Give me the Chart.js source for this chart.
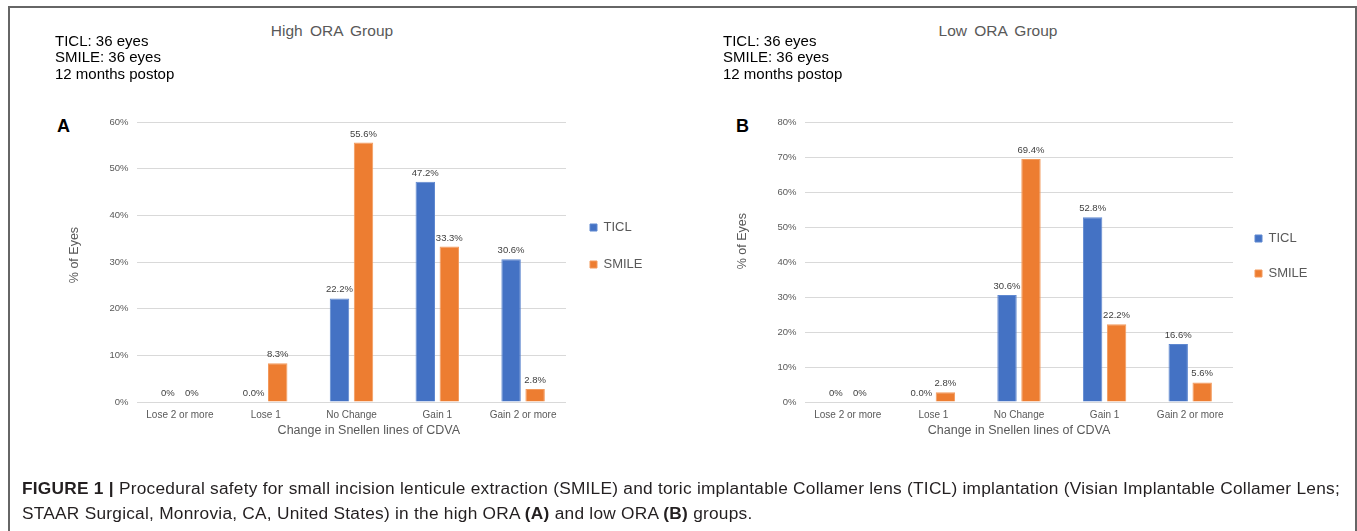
<!DOCTYPE html>
<html>
<head>
<meta charset="utf-8">
<script src="https://cdn.jsdelivr.net/npm/chart.js@4.4.1/dist/chart.umd.min.js"></script>
<style>
  body {
    margin: 0;
    width: 1357px;
    height: 531px;
    position: relative;
    overflow: hidden;
    background: #fff;
    font-family: "Liberation Sans", Arial, sans-serif;
  }
  #frame {
    position: absolute;
    left: 8px;
    top: 6px;
    width: 1345px;
    height: 600px;
    border: 2px solid #666;
  }
  canvas { position: absolute; top: 0; }
  .panel-title {
    position: absolute;
    top: 22.7px;
    width: 200px;
    text-align: center;
    font-size: 15.5px;
    line-height: 16px;
    word-spacing: 3px;
    color: #595959;
    white-space: nowrap;
  }
  .panel-letter {
    position: absolute;
    top: 116.6px;
    font-size: 18px;
    line-height: 18px;
    font-weight: bold;
    color: #000;
  }
  #caption {
    position: absolute;
    left: 22px;
    top: 475.5px;
    font-size: 17.3px;
    line-height: 25px;
    letter-spacing: 0.25px;
    color: #231f20;
    white-space: nowrap;
  }
</style>
</head>
<body>
<div id="frame"></div>

<div class="panel-title" style="left:232px">High ORA Group</div>
<div class="panel-title" style="left:898px">Low ORA Group</div>
<div class="panel-letter" style="left:57px">A</div>
<div class="panel-letter" style="left:736px">B</div>

<canvas id="chartA" width="591" height="492" style="left:55px"></canvas>
<canvas id="chartB" width="590" height="512" style="left:723px"></canvas>

<div id="caption">
  <b>FIGURE 1 |</b> Procedural safety for small incision lenticule extraction (SMILE) and toric implantable Collamer lens (TICL) implantation (Visian Implantable Collamer Lens;<br>
  STAAR Surgical, Monrovia, CA, United States) in the high ORA <b>(A)</b> and low ORA <b>(B)</b> groups.
</div>

<script>
const categories = ['Lose 2 or more', 'Lose 1', 'No Change', 'Gain 1', 'Gain 2 or more'];
const notes = ['TICL: 36 eyes', 'SMILE: 36 eyes', '12 months postop'];

// A - high ORA group
const highTicl = [0, 0, 22.2, 47.2, 30.6];
const highSmile = [0, 8.3, 55.6, 33.3, 2.8];
const highTiclLabels = ['0%', '0.0%', '22.2%', '47.2%', '30.6%'];
const highSmileLabels = ['0%', '8.3%', '55.6%', '33.3%', '2.8%'];

// B - low ORA group
const lowTicl = [0, 0, 30.6, 52.8, 16.6];
const lowSmile = [0, 2.8, 69.4, 22.2, 5.6];
const lowTiclLabels = ['0%', '0.0%', '30.6%', '52.8%', '16.6%'];
const lowSmileLabels = ['0%', '2.8%', '69.4%', '22.2%', '5.6%'];

const TICL_COLOR = '#4472C4';
const SMILE_COLOR = '#ED7D31';
const FONT = '"Liberation Sans", Arial, sans-serif';

Chart.defaults.font.family = FONT;

// value labels above each bar
const barLabels = {
  id: 'barLabels',
  afterDatasetsDraw(chart) {
    const { ctx } = chart;
    ctx.save();
    ctx.font = `9.5px ${FONT}`;
    ctx.fillStyle = '#404040';
    ctx.textAlign = 'center';
    ctx.textBaseline = 'alphabetic';
    chart.data.datasets.forEach((ds, i) => {
      chart.getDatasetMeta(i).data.forEach((bar, j) => {
        ctx.fillText(ds.valueLabels[j], bar.x, bar.y - 6);
      });
    });
    ctx.restore();
  },
};

const buildChart = (canvasId, opts) => new Chart(document.getElementById(canvasId), {
  type: 'bar',
  data: {
    labels: categories,
    datasets: [
      {
        label: 'TICL',
        data: opts.ticl,
        valueLabels: opts.ticlLabels,
        backgroundColor: TICL_COLOR,
        borderColor: '#5f88d0',
        borderWidth: 1,
      },
      {
        label: 'SMILE',
        data: opts.smile,
        valueLabels: opts.smileLabels,
        backgroundColor: SMILE_COLOR,
        borderColor: '#f39a5c',
        borderWidth: 1,
      },
    ],
  },
  options: {
    responsive: false,
    animation: false,
    categoryPercentage: 0.56,
    barPercentage: 0.81,
    layout: { padding: 0 },
    plugins: {
      title: {
        display: true,
        text: notes,
        align: 'start',
        color: '#000',
        font: { size: 15, weight: 'normal', lineHeight: '16.7px' },
        padding: { top: 33.15, bottom: 38.75 },
      },
      legend: {
        position: 'right',
        maxWidth: 80,
        labels: {
          boxWidth: 7,
          boxHeight: 7,
          padding: opts.legendPadding,
          color: '#595959',
          font: { size: 13 },
        },
      },
      tooltip: { enabled: false },
    },
    scales: {
      x: {
        grid: { display: false, drawTicks: false },
        border: { display: false },
        ticks: { color: '#595959', font: { size: 10 }, padding: 7, maxRotation: 0 },
        title: {
          display: true,
          text: opts.xTitle,
          color: '#595959',
          font: { size: 12.5 },
          padding: { top: 0, bottom: opts.xTitlePad },
        },
        afterFit: (scale) => { scale.height = opts.height - 402; },
      },
      y: {
        min: 0,
        max: opts.yMax,
        grid: { color: '#d9d9d9', drawTicks: false },
        border: { display: false },
        ticks: {
          stepSize: 10,
          color: '#595959',
          font: { size: 9.5 },
          padding: 8.5,
          callback: (v) => `${v}%`,
        },
        title: {
          display: true,
          text: opts.yTitle,
          color: '#595959',
          font: { size: 12.5 },
          padding: 12.5,
        },
        afterFit: (scale) => { scale.width = 82; },
      },
    },
  },
  plugins: [barLabels],
});

buildChart('chartA', {
  ticl: highTicl,
  smile: highSmile,
  ticlLabels: highTiclLabels,
  smileLabels: highSmileLabels,
  yMax: 60,
  height: 492,
  legendPadding: 24,
  // leading spaces nudge the centred titles to where they sit in the figure
  yTitle: '    % of Eyes',
  xTitle: '          Change in Snellen lines of CDVA',
  xTitlePad: 53.8,
});

buildChart('chartB', {
  ticl: lowTicl,
  smile: lowSmile,
  ticlLabels: lowTiclLabels,
  smileLabels: lowSmileLabels,
  yMax: 80,
  height: 512,
  legendPadding: 22,
  yTitle: '            % of Eyes',
  xTitle: 'Change in Snellen lines of CDVA',
  xTitlePad: 73.8,
});
</script>
</body>
</html>
